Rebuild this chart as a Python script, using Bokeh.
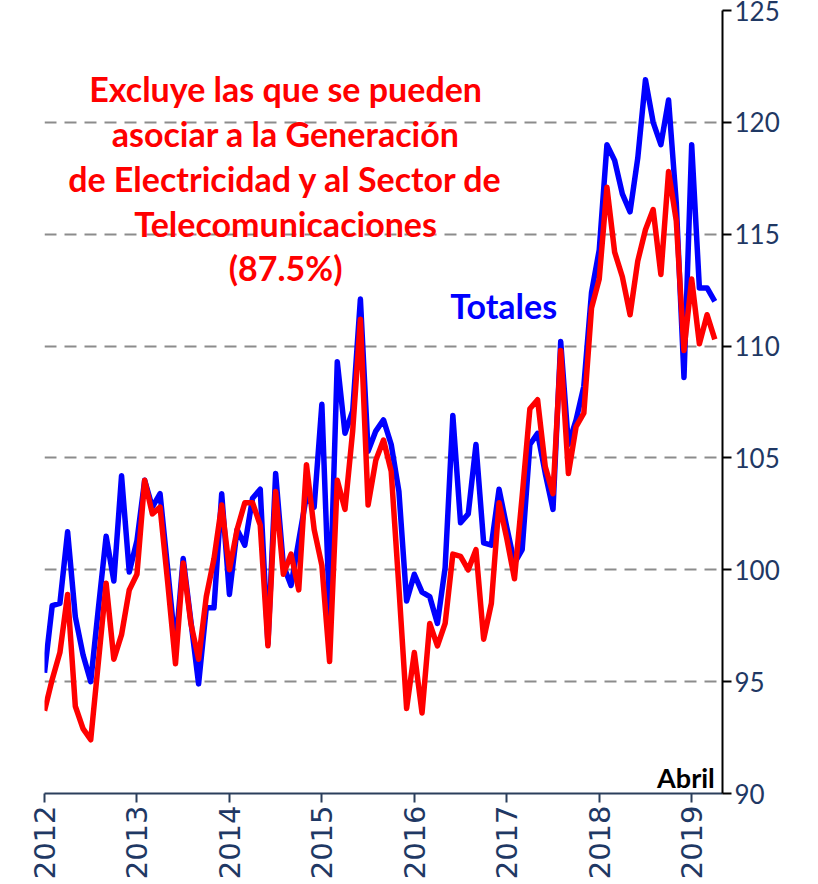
import math
from bokeh.plotting import figure
from bokeh.models import ColumnDataSource, FixedTicker, Label, Range1d
from bokeh.embed import file_html
from bokeh.resources import INLINE

# ---- data (monthly index, Jan 2012 = 0 ... Apr 2019 = 87) ----
years = ["2012", "2013", "2014", "2015", "2016", "2017", "2018", "2019"]

totales = [
    95.4, 98.4, 98.5, 101.7, 97.9, 96.2, 95.0, 98.3, 101.5, 99.5, 104.2, 99.9,
    101.3, 104.0, 102.8, 103.4, 100.0, 96.5, 100.5, 97.7, 94.9, 98.3, 98.3, 103.4,
    98.9, 101.8, 101.1, 103.2, 103.6, 96.7, 104.3, 100.2, 99.3, 101.3, 103.3, 102.8,
    107.4, 98.0, 109.3, 106.1, 107.1, 112.1, 105.3, 106.2, 106.7, 105.6, 103.5, 98.6,
    99.8, 99.0, 98.8, 97.6, 100.1, 106.9, 102.1, 102.5, 105.6, 101.2, 101.1, 103.6,
    101.9, 100.3, 100.9, 105.6, 106.1, 104.3, 102.7, 110.2, 105.6, 106.7, 108.2, 112.4,
    114.3, 119.0, 118.3, 116.8, 116.0, 118.4, 121.9, 120.0, 119.0, 121.0, 116.4, 108.6,
    119.0, 112.6, 112.6, 112.0,
]

excluye = [
    93.7, 95.1, 96.3, 98.9, 93.9, 92.9, 92.4, 95.9, 99.4, 96.0, 97.1, 99.1,
    99.8, 104.0, 102.5, 102.8, 99.4, 95.8, 100.3, 97.6, 96.0, 98.8, 100.5, 102.9,
    100.0, 101.8, 103.0, 103.0, 102.0, 96.6, 103.5, 99.8, 100.7, 99.1, 104.7, 101.8,
    100.2, 95.9, 104.0, 102.7, 106.2, 111.2, 102.9, 104.9, 105.8, 104.4, 99.2, 93.8,
    96.3, 93.6, 97.6, 96.6, 97.6, 100.7, 100.6, 100.0, 100.9, 96.9, 98.5, 103.0,
    101.4, 99.6, 103.3, 107.2, 107.6, 104.6, 103.4, 109.8, 104.3, 106.4, 107.0, 111.7,
    113.0, 117.1, 114.2, 113.1, 111.4, 113.8, 115.2, 116.1, 113.2, 117.8, 115.6, 109.8,
    113.0, 110.1, 111.4, 110.3,
]

month_index = list(range(len(totales)))
year_ticks = [12 * k for k in range(len(years))]
y_ticks = [90, 95, 100, 105, 110, 115, 120, 125]

note_lines = [
    "Excluye las que se pueden",
    "asociar a la Generación",
    "de Electricidad y al Sector de",
    "Telecomunicaciones",
    "(87.5%)",
]

src = ColumnDataSource(dict(x=month_index, tot=totales, exc=excluye))

p = figure(
    frame_width=678, frame_height=783,
    x_range=Range1d(0, 88), y_range=Range1d(90, 125),
    y_axis_location="right",
    output_backend="svg", toolbar_location=None,
    min_border_left=44, min_border_right=88,
    min_border_top=10, min_border_bottom=83,
    outline_line_color=None,
)
p.background_fill_color = "white"

p.line("x", "tot", source=src, line_color="#0000FF", line_width=5.5, line_join="round")
p.line("x", "exc", source=src, line_color="#FF0000", line_width=5.5, line_join="round")

# grid
p.xgrid.visible = False
p.ygrid.ticker = FixedTicker(ticks=y_ticks)
p.ygrid.grid_line_color = "#8c8c8c"
p.ygrid.grid_line_width = 2
p.ygrid.grid_line_dash = "12 8"

# right y axis
ya = p.yaxis[0]
ya.ticker = FixedTicker(ticks=y_ticks)
ya.axis_line_color = "#000000"
ya.axis_line_width = 2
ya.major_tick_line_color = "#000000"
ya.major_tick_line_width = 2
ya.major_tick_in = 0
ya.major_tick_out = 9
ya.minor_tick_line_color = None
ya.major_label_text_font = "Lato"
ya.major_label_text_font_size = "26px"
ya.major_label_text_color = "#1f3864"
ya.major_label_standoff = 3

# bottom x axis
xa = p.xaxis[0]
xa.ticker = FixedTicker(ticks=year_ticks)
xa.major_label_overrides = {t: y for t, y in zip(year_ticks, years)}
xa.major_label_orientation = math.pi / 2
xa.axis_line_color = "#2b3f5c"
xa.axis_line_width = 2
xa.major_tick_line_color = "#2b3f5c"
xa.major_tick_line_width = 2
xa.major_tick_in = 0
xa.major_tick_out = 9
xa.minor_tick_line_color = None
xa.major_label_text_font = "DejaVu Sans"
xa.major_label_text_font_size = "29px"
xa.major_label_text_color = "#1f3864"
xa.major_label_standoff = 3

# annotations
for k, line in enumerate(note_lines):
    p.add_layout(Label(
        x=31.3, y=121.5 - 2 * k, text=line,
        text_font="Lato", text_font_style="bold", text_font_size="34px",
        text_color="#FF0000", text_align="center", text_baseline="middle",
    ))

p.add_layout(Label(
    x=59.6, y=111.8, text="Totales",
    text_font="Lato", text_font_style="bold", text_font_size="34px",
    text_color="#0000FF", text_align="center", text_baseline="middle",
))

p.add_layout(Label(
    x=87.0, y=90.7, text="Abril",
    text_font="Lato", text_font_style="bold", text_font_size="27px",
    text_color="#000000", text_align="right", text_baseline="middle",
))

open("out.html", "w").write(file_html(p, INLINE))
